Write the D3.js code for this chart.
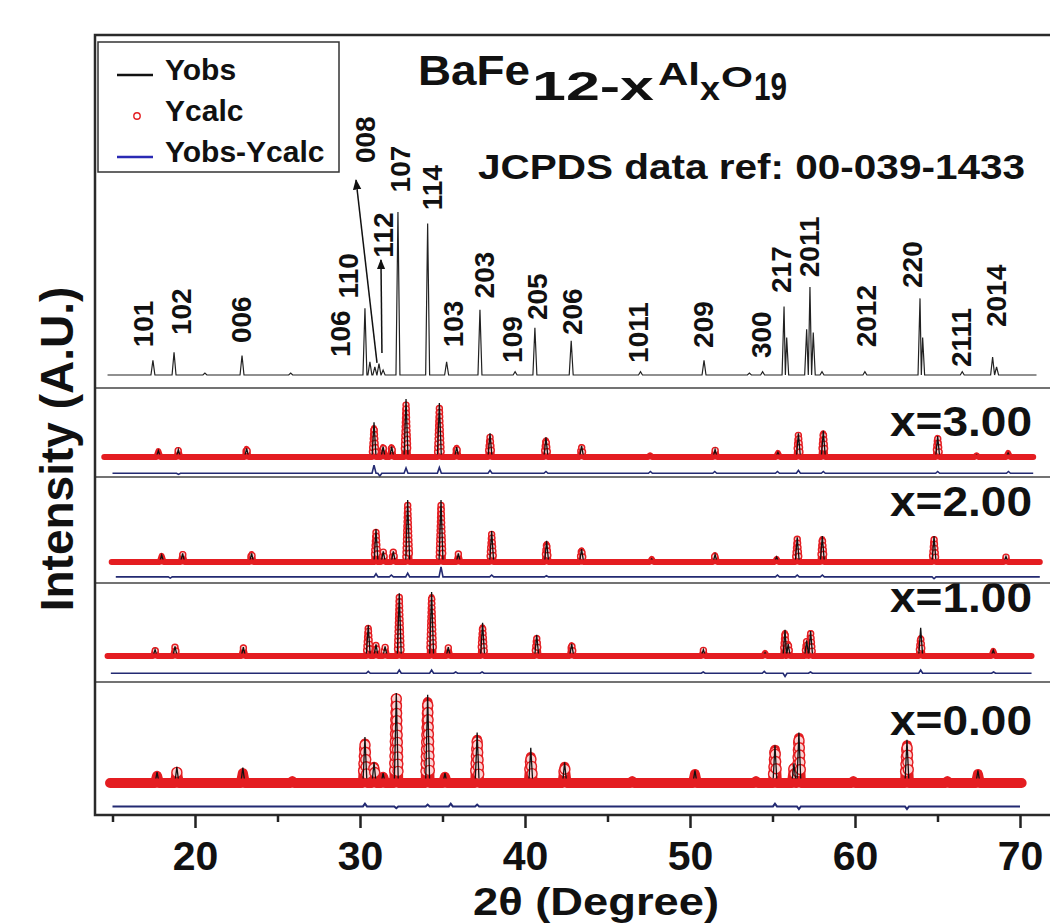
<!DOCTYPE html>
<html>
<head>
<meta charset="utf-8">
<script src="https://cdn.jsdelivr.net/npm/d3@7"></script>
<style>
  body { margin: 0; background: #fff; }
  svg { display: block; }
  text { font-family: "Liberation Sans", Arial, sans-serif; font-weight: bold; fill: #111; }
</style>
</head>
<body>
<div id="chart"></div>
<script>
const width = 1050, height = 923;

// ---- data (2theta in degrees, intensities in % of the panel's strongest peak) ----
const xTicks = [20, 30, 40, 50, 60, 70];
const xMinorTicks = [15, 25, 35, 45, 55, 65];

// JCPDS 00-039-1433 reference pattern: [2theta, I]
const refPeaks = [
  [17.45, 9], [18.73, 14], [20.6, 1.2], [22.85, 12], [25.8, 1.2],
  [30.3, 41], [30.6, 8], [30.9, 5], [31.15, 7], [31.4, 3],
  [32.3, 100], [34.1, 93], [35.25, 8], [37.27, 40], [39.4, 2],
  [40.6, 29], [42.8, 21], [47.0, 2], [50.85, 9], [53.6, 1.2], [54.4, 2],
  [55.7, 42], [55.86, 23], [57.07, 28], [57.27, 54], [57.47, 26], [58.0, 2],
  [60.6, 2], [63.94, 47], [64.1, 23], [66.5, 2], [68.34, 11], [68.58, 5]
];
const refRange = [14.7, 71.0];

const hklLabels = ["101", "102", "006", "106", "110", "008", "112", "107", "114", "103", "203",
  "109", "205", "206", "1011", "209", "300", "217", "2011", "2012", "220", "2111", "2014"];
const hklPos = [16.85, 19.15, 22.79, 28.79, 29.27, 30.3, 31.39, 32.42, 34.36, 35.64, 37.52,
  39.21, 40.73, 42.85, 46.85, 50.79, 54.3, 55.52, 57.21, 60.67, 63.45, 66.42, 68.55];
const hklLevel = [17, 24.5, 19.6, 11, 47, 130, 72, 112, 101, 17, 47,
  7.4, 33.7, 24.5, 7.4, 16.6, 10.4, 50.3, 60, 17, 53.4, 4.9, 29.4];
// arrows [2theta1, I1, 2theta2, I2]
const hklArrows = [[31.03, 7.4, 29.76, 119.6], [31.33, 13.5, 31.27, 70.6]];

const compLabels = ["x=3.00", "x=2.00", "x=1.00", "x=0.00"];

// refined patterns: [2theta, Ycalc, Yobs]
const peaksX3 = [
  [17.78, 10, 11], [18.99, 12, 13], [23.13, 14, 15], [30.85, 50, 60], [31.4, 17, 18],
  [31.92, 17, 18], [32.79, 90, 100], [34.81, 84, 93], [35.86, 16, 17], [37.88, 34, 41],
  [41.27, 29, 34], [43.43, 17, 19], [47.58, 3, 3], [51.52, 12, 13], [55.33, 7, 8],
  [56.57, 38, 41], [58.08, 41, 45], [65.01, 33, 36], [67.37, 3, 4], [69.28, 7, 7]
];
const peaksX2 = [
  [17.98, 10, 11], [19.25, 13, 14], [23.43, 13, 14], [30.97, 48, 53], [31.41, 16, 17],
  [32.02, 16, 17], [32.89, 92, 100], [34.91, 92, 100], [35.96, 13, 14], [37.98, 45, 50],
  [41.31, 29, 34], [43.43, 19, 21], [47.68, 5, 5], [51.52, 11, 12], [55.25, 5, 8],
  [56.5, 37, 40], [58.02, 37, 42], [64.79, 37, 42], [69.15, 8, 9]
];
const peaksX1 = [
  [17.58, 9, 10], [18.79, 14, 15], [22.93, 13, 14], [30.5, 44, 48], [30.97, 17, 18],
  [31.52, 14, 15], [32.38, 92, 98], [34.34, 92, 100], [35.35, 13, 14], [37.43, 45, 52],
  [40.71, 28, 33], [42.83, 17, 19], [50.81, 9, 10], [54.55, 5, 5], [55.76, 36, 41],
  [55.95, 19, 19], [57.07, 23, 24], [57.31, 36, 39], [63.98, 28, 44], [68.38, 8, 9]
];
const peaksX0 = [
  [17.7, 8, 12], [18.9, 12, 18], [22.9, 11, 17], [25.9, 2, 3], [30.3, 44, 51],
  [30.85, 18, 23], [31.4, 7, 11], [32.2, 94, 100], [34.1, 90, 98], [35.15, 7, 11],
  [37.1, 48, 56], [40.35, 29, 39], [42.4, 18, 23], [46.5, 2, 3], [50.3, 10, 14],
  [54.0, 2, 3], [55.15, 37, 42], [56.3, 17, 22], [56.6, 50, 56], [59.9, 2, 3],
  [63.15, 42, 48], [65.6, 2, 3], [67.45, 10, 14]
];
const rangesX = [[14.5, 70.8], [14.95, 71.2], [14.7, 70.7], [14.85, 70.1]];

// Yobs-Ycalc: [2theta, difference]
const diffX3 = [[19.0, -2], [30.85, 14], [31.2, -5], [32.79, 9], [34.81, 10], [37.88, 5],
  [41.27, 3], [47.6, 3], [51.5, 3], [55.3, 3], [56.57, 5], [58.08, 3], [65.01, 3], [69.3, 3]];
const diffX2 = [[18.5, -2], [30.97, 5], [31.9, 3], [32.89, 6], [34.91, 16], [37.98, 3],
  [41.3, 2], [55.3, 3], [56.5, 3], [58.02, 3], [64.79, -3]];
const diffX1 = [[30.5, 3], [32.38, 5], [34.34, 5], [35.8, 2], [37.4, 2], [50.8, 2],
  [54.5, 3], [55.76, -5], [57.3, 2], [63.98, 5], [68.4, 2]];
const diffX0 = [[30.3, 3], [32.2, -2], [34.1, 2], [35.5, 3], [37.1, 2], [55.15, 3],
  [56.6, -3], [63.15, -3]];
const diffOffset = [-28, -24, -27, -26];
const diffRanges = [[15.0, 70.8], [15.2, 71.2], [14.9, 70.7], [15.0, 70.0]];

// ---- layout ----
const frame = { left: 95, top: 35, right: 1064, bottom: 815 };
const refPanel = { y0: 375, y100: 212 };
const panels = [
  { top: 388, bottom: 477, y0: 457, y100: 399, band: 6, r: 3, labelY: 436 },
  { top: 477, bottom: 583, y0: 562, y100: 500, band: 6, r: 3, labelY: 516 },
  { top: 583, bottom: 682, y0: 656, y100: 592, band: 6, r: 3, labelY: 612 },
  { top: 682, bottom: 815, y0: 783, y100: 693, band: 10, r: 5, labelY: 735 },
];
const colors = { red: "#e41d21", circleFill: "#fbd2d2", obs: "#111", diff: "#232a72", ref: "#222", frame: "#2a2a2a" };

const x = d3.scaleLinear().domain([15, 70]).range([112.5, 1020]);

// stick profile: baseline, then for each peak a foot, the tip and a foot
function profile(peaks, col, range, base) {
  const hw = 0.12;
  const pts = [[range[0], base]];
  peaks.forEach((p, i) => {
    const prev = i > 0 ? peaks[i - 1][0] : range[0];
    const next = i < peaks.length - 1 ? peaks[i + 1][0] : range[1];
    const l = Math.min(hw, (p[0] - prev) / 2), r = Math.min(hw, (next - p[0]) / 2);
    pts.push([p[0] - l, base], [p[0], base + p[col]], [p[0] + r, base]);
  });
  pts.push([range[1], base]);
  return pts;
}

const svg = d3.select("#chart").append("svg").attr("width", width).attr("height", height);
const defs = svg.append("defs");
defs.append("marker").attr("id", "arrowhead").attr("viewBox", "0 0 10 10")
  .attr("refX", 9).attr("refY", 5).attr("markerWidth", 7).attr("markerHeight", 7)
  .attr("orient", "auto-start-reverse")
  .append("path").attr("d", "M0,1 L10,5 L0,9 Z").attr("fill", "#111");

// ---- top panel: reference pattern ----
const yRef = d3.scaleLinear().domain([0, 100]).range([refPanel.y0, refPanel.y100]);
const line = (yS) => d3.line().x(d => x(d[0])).y(d => yS(d[1]));

svg.append("path").datum(profile(refPeaks, 1, refRange, 0))
  .attr("d", line(yRef)).attr("fill", "none").attr("stroke", colors.ref).attr("stroke-width", 1.2);

svg.append("g").selectAll("line.arrow").data(hklArrows).join("line")
  .attr("class", "arrow")
  .attr("x1", d => x(d[0])).attr("y1", d => yRef(d[1]))
  .attr("x2", d => x(d[2])).attr("y2", d => yRef(d[3]))
  .attr("stroke", "#111").attr("stroke-width", 1.5).attr("marker-end", "url(#arrowhead)");

svg.append("g").selectAll("text").data(hklLabels).join("text")
  .attr("transform", (d, i) => `translate(${x(hklPos[i])},${yRef(hklLevel[i])}) rotate(-90)`)
  .attr("dy", "0.35em").attr("font-size", 28).text(d => d);

// ---- refined panels ----
const peakSets = [peaksX3, peaksX2, peaksX1, peaksX0];
const diffSets = [diffX3, diffX2, diffX1, diffX0];

panels.forEach((p, k) => {
  const y = d3.scaleLinear().domain([0, 100]).range([p.y0, p.y100]);
  const g = svg.append("g");
  const bandTop = p.y0 - p.band / 2;

  g.append("path").datum(profile(diffSets[k], 1, diffRanges[k], diffOffset[k]))
    .attr("d", line(y)).attr("fill", "none").attr("stroke", colors.diff)
    .attr("stroke-width", k === 3 ? 2 : 1.6);

  const calc = g.append("path").datum(profile(peakSets[k], 1, rangesX[k], 0))
    .attr("d", line(y)).attr("fill", "none").attr("stroke", colors.red)
    .attr("stroke-width", p.band).attr("stroke-linejoin", "round").attr("stroke-linecap", "round");

  // open circle markers where the calc curve rises clearly out of the band
  const node = calc.node(), L = node.getTotalLength(), step = p.r * 1.45;
  const marks = d3.range(0, L, step).map(s => node.getPointAtLength(s))
    .filter(q => q.y < bandTop - p.r * 0.6);
  g.selectAll("circle").data(marks).join("circle")
    .attr("cx", d => d.x).attr("cy", d => d.y).attr("r", p.r)
    .attr("fill", colors.circleFill).attr("stroke", colors.red).attr("stroke-width", 1.4);

  const clipId = `clip-obs-${k}`;
  defs.append("clipPath").attr("id", clipId).append("rect")
    .attr("x", frame.left).attr("y", p.top).attr("width", frame.right - frame.left)
    .attr("height", bandTop - p.top + 0.5);
  g.append("path").datum(profile(peakSets[k], 2, rangesX[k], 0))
    .attr("d", line(y)).attr("fill", "none").attr("stroke", colors.obs)
    .attr("stroke-width", 1.3).attr("clip-path", `url(#${clipId})`);

  g.append("text").attr("x", 890).attr("y", p.labelY).attr("font-size", 42)
    .attr("textLength", 142).attr("lengthAdjust", "spacingAndGlyphs").text(compLabels[k]);
});

// separators and frame
svg.append("g").selectAll("line").data(panels).join("line")
  .attr("x1", frame.left).attr("x2", frame.right).attr("y1", d => d.top).attr("y2", d => d.top)
  .attr("stroke", "#444").attr("stroke-width", 1.6);
svg.append("rect").attr("x", frame.left).attr("y", frame.top)
  .attr("width", frame.right - frame.left).attr("height", frame.bottom - frame.top)
  .attr("fill", "none").attr("stroke", colors.frame).attr("stroke-width", 2.5);

// ---- x axis ----
const axisG = svg.append("g").attr("transform", `translate(0,${frame.bottom})`);
axisG.call(d3.axisBottom(x).tickValues(xTicks).tickSize(13).tickPadding(13).tickFormat(d3.format("d")));
axisG.append("g").call(d3.axisBottom(x).tickValues(xMinorTicks).tickSize(7).tickFormat(""));
axisG.selectAll(".domain").remove();
axisG.selectAll(".tick line").attr("stroke", "#222").attr("stroke-width", 2.5);
axisG.selectAll(".tick text").attr("font-size", 41).attr("font-family", null).attr("fill", "#111");

svg.append("text").attr("x", 596).attr("y", 915).attr("text-anchor", "middle")
  .attr("font-size", 38).attr("textLength", 246).attr("lengthAdjust", "spacingAndGlyphs")
  .text("2θ (Degree)");
svg.append("text").attr("transform", "translate(73,449) rotate(-90)")
  .attr("text-anchor", "middle").attr("font-size", 46).text("Intensity (A.U.)");

// ---- title ----
const titleParts = [
  { t: "BaFe", x: 418, y: 85, fs: 42, len: 112 },
  { t: "12-x", x: 532, y: 100, fs: 41, len: 122 },
  { t: "Al", x: 658, y: 85, fs: 32, len: 42 },
  { t: "x", x: 700, y: 100, fs: 34, len: 20 },
  { t: "O", x: 721, y: 87, fs: 30, len: 32 },
  { t: "19", x: 754, y: 100, fs: 38, len: 33 },
];
svg.append("g").selectAll("text").data(titleParts).join("text")
  .attr("x", d => d.x).attr("y", d => d.y).attr("font-size", d => d.fs)
  .attr("textLength", d => d.len).attr("lengthAdjust", "spacingAndGlyphs").text(d => d.t);

svg.append("text").attr("x", 478).attr("y", 179).attr("font-size", 35)
  .attr("textLength", 547).attr("lengthAdjust", "spacingAndGlyphs")
  .text("JCPDS data ref: 00-039-1433");

// ---- legend ----
const legend = svg.append("g");
legend.append("rect").attr("x", 98).attr("y", 42).attr("width", 241).attr("height", 130)
  .attr("fill", "#fff").attr("stroke", "#333").attr("stroke-width", 1.5);
legend.append("line").attr("x1", 117).attr("x2", 153).attr("y1", 75).attr("y2", 75)
  .attr("stroke", "#111").attr("stroke-width", 2.5);
legend.append("circle").attr("cx", 137).attr("cy", 116).attr("r", 3.2)
  .attr("fill", "#fff").attr("stroke", colors.red).attr("stroke-width", 1.4);
legend.append("line").attr("x1", 117).attr("x2", 153).attr("y1", 157).attr("y2", 157)
  .attr("stroke", "#2a2ab4").attr("stroke-width", 2.5);
legend.selectAll("text.leg").data(["Yobs", "Ycalc", "Yobs-Ycalc"]).join("text")
  .attr("class", "leg").attr("x", 165).attr("y", (d, i) => 80 + i * 41)
  .attr("font-size", 30).text(d => d);
</script>
</body>
</html>
